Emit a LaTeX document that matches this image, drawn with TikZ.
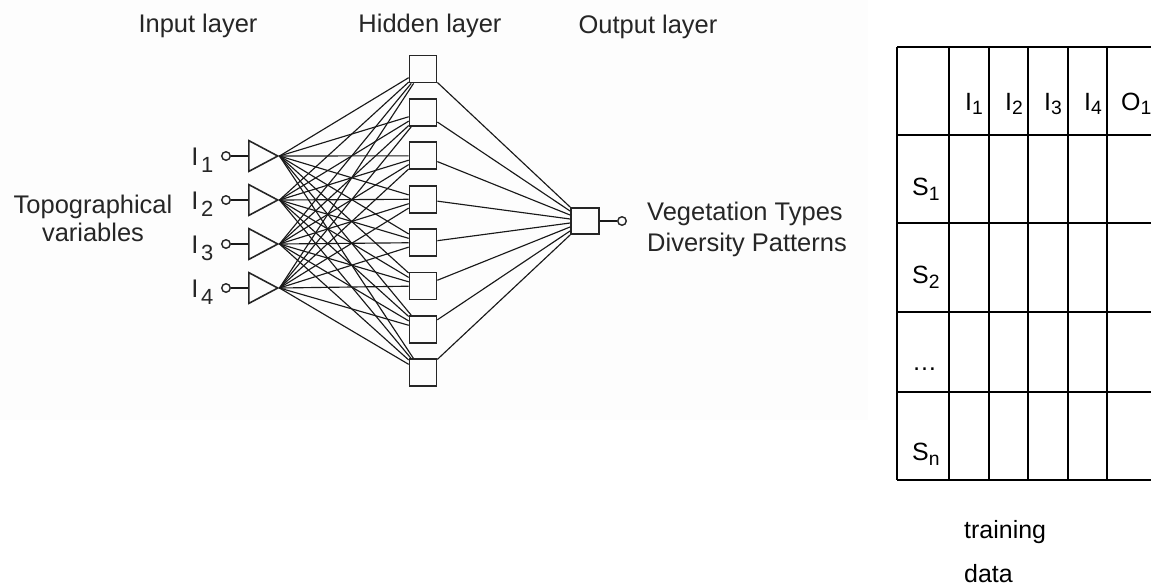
\documentclass[tikz,border=0pt]{standalone}
\usepackage{fontspec}
\setmainfont{Liberation Sans}
\usepackage{tikz}
\usetikzlibrary{positioning,shapes.geometric}

\newcommand{\insub}[2]{#1\kern1.5pt\raisebox{-0.3em}{\fontsize{12.5}{12.5}\selectfont #2}}
\newcommand{\tsub}[1]{\raisebox{-0.2em}{\fontsize{11}{11}\selectfont #1}}

\begin{document}
\begin{tikzpicture}[x=0.02cm,y=-0.02cm,
    font=\fontsize{14.5}{16.4}\selectfont,
    wire/.style={draw=black!90, line width=0.65pt},
    neuron/.style={draw=black!85, line width=0.95pt, minimum size=0.54cm, inner sep=0pt},
    outneuron/.style={neuron, minimum width=0.56cm, minimum height=0.52cm},
    inpt/.style={isosceles triangle, isosceles triangle apex angle=56, draw=black!85, line width=0.9pt,
        minimum width=0.58cm, minimum height=0.58cm, inner sep=0pt, anchor=west},
    pin/.style={circle, draw=black!85, line width=0.8pt, minimum size=0.17cm, inner sep=0pt},
    layertext/.style={text=black!85},
    tablerule/.style={line width=1.3pt},
    celltext/.style={anchor=base west, font=\fontsize{14.2}{16}\selectfont}]
        \useasboundingbox (0,0) rectangle (1151,586);
        \fill[black!0.6] (0,0) rectangle (868,420);
        % network
        \node[layertext] (inlayer) at (198,26) {Input layer};
        \node[layertext] (hidlayer) at (430,26) {Hidden layer};
        \node[layertext] (outlayer) at (648,27) {Output layer};
        \foreach \k in {1,...,4} {
            \node[inpt] (t\k) at (248,112+44*\k) {};
            \node[pin] (p\k) at (226,112+44*\k) {};
            \node[layertext, anchor=base west, inner sep=0pt] (l\k) at (191,121+44*\k) {\insub{I}{\k}};
            \draw[wire] (p\k) -- (t\k);
        }
        \foreach \k in {1,...,8}
            \node[neuron] (h\k) at (423,25.6+43.4*\k) {};
        \node[outneuron] (out) at (585,221) {};
        \node[pin] (op) at (622,221) {};
        \draw[wire] (out) -- (op);
        \foreach \i in {1,...,4}
            \foreach \k in {1,...,8}
                \draw[wire] (t\i.apex) -- (h\k);
        \foreach \k in {1,...,8}
            \draw[wire] (h\k) -- (out);
        \node[layertext, align=center, font=\fontsize{14.5}{16}\selectfont] (topo) at (93,218) {Topographical\\variables};
        \node[layertext, align=left, anchor=west, font=\fontsize{14.5}{17.6}\selectfont] (veg) at (641,229) {Vegetation Types\\Diversity Patterns};
        % training data table
        \foreach \y in {47,135,223,312,392,480}
            \draw[tablerule] (897,\y) -- (1170,\y);
        \foreach \x in {897,949,989,1028,1068,1107}
            \draw[tablerule] (\x,47) -- (\x,480);
        \node[celltext] (c1) at (959,110) {I\tsub{1}};
        \node[celltext] (c2) at (999,110) {I\tsub{2}};
        \node[celltext] (c3) at (1038,110) {I\tsub{3}};
        \node[celltext] (c4) at (1078,110) {I\tsub{4}};
        \node[celltext] (c5) at (1115,110) {O\tsub{1}};
        \node[celltext] (s1) at (906,195) {S\tsub{1}};
        \node[celltext] (s2) at (906,283) {S\tsub{2}};
        \node[celltext] (s3) at (906,370) {\ldots};
        \node[celltext] (s4) at (906,460) {S\tsub{n}};
        \node[celltext] (train) at (958,538) {training};
        \node[celltext] (data) at (958,582) {data};
\end{tikzpicture}
\end{document}
